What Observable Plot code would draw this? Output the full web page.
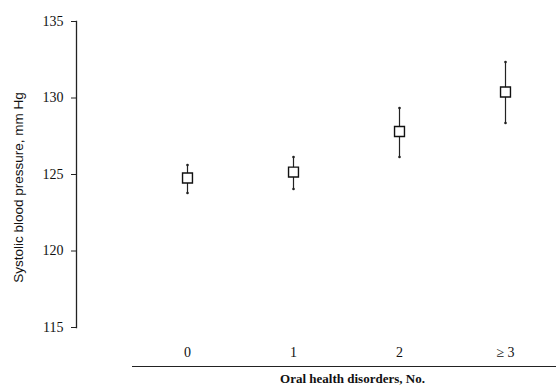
<!DOCTYPE html>
<html>
<head>
<meta charset="utf-8">
<script src="https://cdn.jsdelivr.net/npm/d3@7"></script>
<script src="https://cdn.jsdelivr.net/npm/@observablehq/plot@0.6"></script>
<style>
  html, body { margin: 0; padding: 0; background: #fff; }
  #chart svg { display: block; }
</style>
</head>
<body>
<div id="chart"></div>
<script>
const categories = ["0", "1", "2", "\u2265 3"];
const means = [124.77, 125.16, 127.81, 130.39];
const lower = [123.79, 124.05, 126.14, 128.37];
const upper = [125.62, 126.14, 129.35, 132.35];
const yTicks = [115, 120, 125, 130, 135];
const yTitle = "Systolic blood pressure, mm Hg";
const xTitle = "Oral health disorders, No.";

const data = categories.map((c, i) => ({cat: c, mean: means[i], lo: lower[i], hi: upper[i]}));

const serif = "'Liberation Serif', 'Times New Roman', serif";
const sans = "'Liberation Sans', Arial, sans-serif";

const chart = Plot.plot({
  width: 556,
  height: 385,
  marginTop: 21,
  marginBottom: 58,
  marginLeft: 76,
  marginRight: 0,
  style: {background: "#fff", color: "#111"},
  x: {type: "point", domain: categories, range: [186, 506], padding: 0},
  y: {domain: [115, 135]},
  marks: [
    Plot.frame({anchor: "left", stroke: "#222", strokeWidth: 1.3}),
    Plot.axisY({
      ticks: yTicks, tickSize: 5, tickPadding: 8,
      label: null, fontFamily: serif, fontSize: 14, stroke: "#222"
    }),
    Plot.axisX({
      tickSize: 0, tickPadding: 20, label: null,
      fontFamily: serif, fontSize: 14
    }),
    Plot.ruleY([115], {dy: 39, insetLeft: 56, stroke: "#222", strokeWidth: 1.2}),
    Plot.text([yTitle], {frameAnchor: "left", textAnchor: "middle", rotate: -90, dx: -58, dy: 13, fontFamily: sans, fontSize: 13.5, fill: "#111"}),
    Plot.text([xTitle], {frameAnchor: "bottom", dx: 36, dy: 55, fontFamily: serif, fontSize: 13, fontWeight: "bold", fill: "#111"}),
    Plot.ruleX(data, {x: "cat", y1: "lo", y2: "hi", stroke: "#222", strokeWidth: 1.2}),
    Plot.dot(data, {x: "cat", y: "lo", r: 1.3, fill: "#222"}),
    Plot.dot(data, {x: "cat", y: "hi", r: 1.3, fill: "#222"}),
    Plot.dot(data, {x: "cat", y: "mean", symbol: "square", r: 5.6, fill: "white", stroke: "#111", strokeWidth: 1.4})
  ]
});
document.getElementById("chart").appendChild(chart);
</script>
</body>
</html>
